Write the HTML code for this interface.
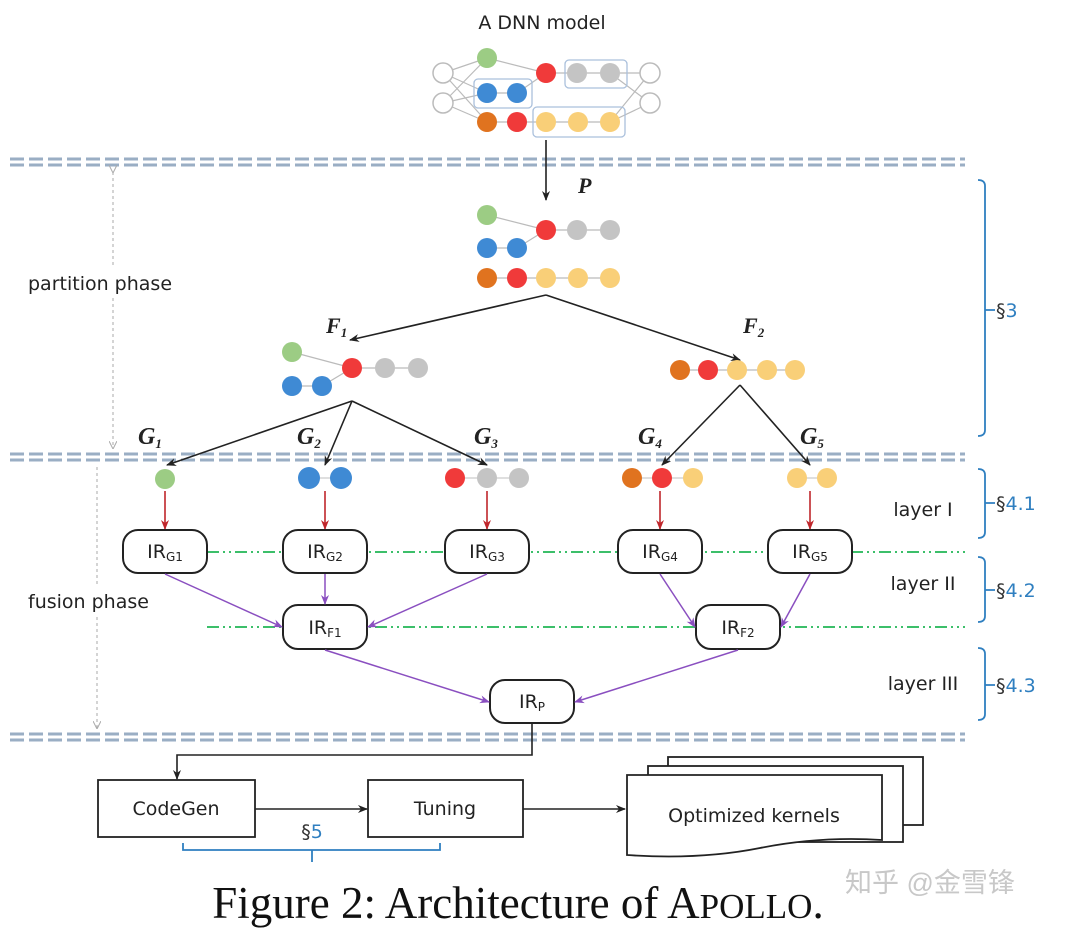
<!DOCTYPE html>
<html><head><meta charset="utf-8"><style>
html,body{margin:0;padding:0;background:#fff;}
svg{display:block;}
.s{font-family:"DejaVu Sans","Liberation Sans",sans-serif;}
.m{font-family:"Liberation Serif","DejaVu Serif",serif;font-style:italic;font-weight:bold;}
.cap{font-family:"Liberation Serif",serif;}
.wm{font-family:"Liberation Sans","Noto Sans CJK SC",sans-serif;}
</style></head><body>
<svg width="1080" height="943" viewBox="0 0 1080 943" xmlns="http://www.w3.org/2000/svg">
<defs>
<marker id="ak" markerWidth="10" markerHeight="10" refX="9" refY="5" orient="auto" markerUnits="userSpaceOnUse"><path d="M0,1 L10,5 L0,9 L3,5z" fill="#222"/></marker>
<marker id="ar" markerWidth="10" markerHeight="10" refX="9" refY="5" orient="auto" markerUnits="userSpaceOnUse"><path d="M0,1 L10,5 L0,9 L3,5z" fill="#c0262b"/></marker>
<marker id="ap" markerWidth="10" markerHeight="10" refX="9" refY="5" orient="auto" markerUnits="userSpaceOnUse"><path d="M0,1 L10,5 L0,9 L3,5z" fill="#8a4fc0"/></marker>
<marker id="ag" markerWidth="8" markerHeight="8" refX="7" refY="4" orient="auto" markerUnits="userSpaceOnUse"><path d="M0,0 L8,4 L0,8" fill="none" stroke="#aaa"/></marker>
</defs>

<text class="s" x="542" y="29" font-size="19" text-anchor="middle" fill="#222">A DNN model</text>
<g stroke="#bbb" stroke-width="1.2" fill="none">
<path d="M443,73 L487,58 M443,73 L487,93 M443,73 L487,122 M443,103 L487,58 M443,103 L487,93 M443,103 L487,122 M487,58 L546,73 M517,93 L546,73 M546,73 L610,73 M487,93 L517,93 M487,122 L610,122 M610,73 L650,73 M610,73 L650,103 M610,122 L650,73 M610,122 L650,103"/>
</g>
<g stroke="#aac0dc" stroke-width="1.3" fill="none">
<rect x="565" y="60" width="62" height="28" rx="4"/>
<rect x="474" y="79" width="58" height="29" rx="4"/>
<rect x="533" y="107" width="92" height="30" rx="4"/>
</g>
<g>
<circle cx="443" cy="73" r="10" fill="#fff" stroke="#bbb" stroke-width="1.5"/>
<circle cx="443" cy="103" r="10" fill="#fff" stroke="#bbb" stroke-width="1.5"/>
<circle cx="650" cy="73" r="10" fill="#fff" stroke="#bbb" stroke-width="1.5"/>
<circle cx="650" cy="103" r="10" fill="#fff" stroke="#bbb" stroke-width="1.5"/>
<circle cx="487" cy="58" r="10" fill="#9ccc84"/>
<circle cx="546" cy="73" r="10" fill="#f03a3a"/>
<circle cx="577" cy="73" r="10" fill="#c4c4c4"/>
<circle cx="610" cy="73" r="10" fill="#c4c4c4"/>
<circle cx="487" cy="93" r="10" fill="#3f8ad4"/>
<circle cx="517" cy="93" r="10" fill="#3f8ad4"/>
<circle cx="487" cy="122" r="10" fill="#e0731f"/>
<circle cx="517" cy="122" r="10" fill="#f03a3a"/>
<circle cx="546" cy="122" r="10" fill="#f9cf78"/>
<circle cx="578" cy="122" r="10" fill="#f9cf78"/>
<circle cx="610" cy="122" r="10" fill="#f9cf78"/>
</g>

<g stroke="#9aaec4" stroke-width="3" stroke-dasharray="14,5">
<line x1="10" y1="159" x2="965" y2="159"/><line x1="10" y1="165" x2="965" y2="165"/>
<line x1="10" y1="454" x2="965" y2="454"/><line x1="10" y1="460" x2="965" y2="460"/>
<line x1="10" y1="734" x2="965" y2="734"/><line x1="10" y1="740" x2="965" y2="740"/>
</g>

<line x1="546" y1="140" x2="546" y2="200" stroke="#222" stroke-width="1.6" marker-end="url(#ak)"/>
<text class="m" x="578" y="193" font-size="22" fill="#222">P</text>

<g stroke="#bbb" stroke-width="1.2"><path d="M487,215 L546,230 M517,248 L546,230 M546,230 L610,230 M487,248 L517,248 M487,278 L610,278"/></g>
<circle cx="487" cy="215" r="10" fill="#9ccc84"/>
<circle cx="546" cy="230" r="10" fill="#f03a3a"/>
<circle cx="577" cy="230" r="10" fill="#c4c4c4"/>
<circle cx="610" cy="230" r="10" fill="#c4c4c4"/>
<circle cx="487" cy="248" r="10" fill="#3f8ad4"/>
<circle cx="517" cy="248" r="10" fill="#3f8ad4"/>
<circle cx="487" cy="278" r="10" fill="#e0731f"/>
<circle cx="517" cy="278" r="10" fill="#f03a3a"/>
<circle cx="546" cy="278" r="10" fill="#f9cf78"/>
<circle cx="578" cy="278" r="10" fill="#f9cf78"/>
<circle cx="610" cy="278" r="10" fill="#f9cf78"/>

<line x1="546" y1="295" x2="350" y2="340" stroke="#222" stroke-width="1.6" marker-end="url(#ak)"/>
<line x1="546" y1="295" x2="740" y2="360" stroke="#222" stroke-width="1.6" marker-end="url(#ak)"/>
<text class="m" x="326" y="333" font-size="22" fill="#222">F<tspan font-size="13" dy="4">1</tspan></text>
<text class="m" x="743" y="333" font-size="22" fill="#222">F<tspan font-size="13" dy="4">2</tspan></text>

<g stroke="#bbb" stroke-width="1.2"><path d="M292,352 L352,368 M322,386 L352,368 M352,368 L418,368 M292,386 L322,386 M680,370 L795,370"/></g>
<circle cx="292" cy="352" r="10" fill="#9ccc84"/>
<circle cx="352" cy="368" r="10" fill="#f03a3a"/>
<circle cx="385" cy="368" r="10" fill="#c4c4c4"/>
<circle cx="418" cy="368" r="10" fill="#c4c4c4"/>
<circle cx="292" cy="386" r="10" fill="#3f8ad4"/>
<circle cx="322" cy="386" r="10" fill="#3f8ad4"/>
<circle cx="680" cy="370" r="10" fill="#e0731f"/>
<circle cx="708" cy="370" r="10" fill="#f03a3a"/>
<circle cx="737" cy="370" r="10" fill="#f9cf78"/>
<circle cx="767" cy="370" r="10" fill="#f9cf78"/>
<circle cx="795" cy="370" r="10" fill="#f9cf78"/>

<g stroke="#222" stroke-width="1.6">
<line x1="352" y1="401" x2="167" y2="465" marker-end="url(#ak)"/>
<line x1="352" y1="401" x2="325" y2="465" marker-end="url(#ak)"/>
<line x1="352" y1="401" x2="487" y2="465" marker-end="url(#ak)"/>
<line x1="740" y1="385" x2="662" y2="465" marker-end="url(#ak)"/>
<line x1="740" y1="385" x2="810" y2="465" marker-end="url(#ak)"/>
</g>
<g class="m" font-size="24" fill="#222">
<text x="138" y="444">G<tspan font-size="13" dy="4">1</tspan></text>
<text x="297" y="444">G<tspan font-size="13" dy="4">2</tspan></text>
<text x="474" y="444">G<tspan font-size="13" dy="4">3</tspan></text>
<text x="638" y="444">G<tspan font-size="13" dy="4">4</tspan></text>
<text x="800" y="444">G<tspan font-size="13" dy="4">5</tspan></text>
</g>

<g stroke="#ccc" stroke-width="1.2"><path d="M308,478 L340,478 M455,478 L519,478 M632,478 L693,478 M797,478 L827,478"/></g>
<circle cx="165" cy="479" r="10" fill="#9ccc84"/>
<circle cx="309" cy="478" r="11" fill="#3f8ad4"/>
<circle cx="341" cy="478" r="11" fill="#3f8ad4"/>
<circle cx="455" cy="478" r="10" fill="#f03a3a"/>
<circle cx="487" cy="478" r="10" fill="#c4c4c4"/>
<circle cx="519" cy="478" r="10" fill="#c4c4c4"/>
<circle cx="632" cy="478" r="10" fill="#e0731f"/>
<circle cx="662" cy="478" r="10" fill="#f03a3a"/>
<circle cx="693" cy="478" r="10" fill="#f9cf78"/>
<circle cx="797" cy="478" r="10" fill="#f9cf78"/>
<circle cx="827" cy="478" r="10" fill="#f9cf78"/>

<g stroke="#c0262b" stroke-width="1.6">
<line x1="165" y1="491" x2="165" y2="529" marker-end="url(#ar)"/>
<line x1="325" y1="491" x2="325" y2="529" marker-end="url(#ar)"/>
<line x1="487" y1="491" x2="487" y2="529" marker-end="url(#ar)"/>
<line x1="660" y1="491" x2="660" y2="529" marker-end="url(#ar)"/>
<line x1="810" y1="491" x2="810" y2="529" marker-end="url(#ar)"/>
</g>

<g stroke="#3cbf6a" stroke-width="2" stroke-dasharray="12,4,2,4,2,4">
<line x1="207" y1="552" x2="965" y2="552"/>
<line x1="207" y1="627" x2="965" y2="627"/>
</g>

<g stroke="#222" stroke-width="2" fill="#fff">
<rect x="123" y="530" width="84" height="43" rx="15"/>
<rect x="283" y="530" width="84" height="43" rx="15"/>
<rect x="445" y="530" width="84" height="43" rx="15"/>
<rect x="618" y="530" width="84" height="43" rx="15"/>
<rect x="768" y="530" width="84" height="43" rx="15"/>
<rect x="283" y="605" width="84" height="44" rx="15"/>
<rect x="696" y="605" width="84" height="44" rx="15"/>
<rect x="490" y="680" width="84" height="43" rx="15"/>
</g>
<g class="s" font-size="19" fill="#222" text-anchor="middle">
<text x="165" y="558">IR<tspan font-size="12" dy="3">G1</tspan></text>
<text x="325" y="558">IR<tspan font-size="12" dy="3">G2</tspan></text>
<text x="487" y="558">IR<tspan font-size="12" dy="3">G3</tspan></text>
<text x="660" y="558">IR<tspan font-size="12" dy="3">G4</tspan></text>
<text x="810" y="558">IR<tspan font-size="12" dy="3">G5</tspan></text>
<text x="325" y="634">IR<tspan font-size="12" dy="3">F1</tspan></text>
<text x="738" y="634">IR<tspan font-size="12" dy="3">F2</tspan></text>
<text x="532" y="708">IR<tspan font-size="12" dy="3">P</tspan></text>
</g>

<g stroke="#8a4fc0" stroke-width="1.5">
<line x1="165" y1="574" x2="282" y2="627" marker-end="url(#ap)"/>
<line x1="325" y1="574" x2="325" y2="604" marker-end="url(#ap)"/>
<line x1="487" y1="574" x2="368" y2="627" marker-end="url(#ap)"/>
<line x1="660" y1="574" x2="695" y2="627" marker-end="url(#ap)"/>
<line x1="810" y1="574" x2="781" y2="627" marker-end="url(#ap)"/>
<line x1="325" y1="650" x2="489" y2="702" marker-end="url(#ap)"/>
<line x1="738" y1="650" x2="575" y2="702" marker-end="url(#ap)"/>
</g>

<g stroke="#aaa" stroke-width="1" stroke-dasharray="3,3">
<line x1="113" y1="172" x2="113" y2="448" marker-end="url(#ag)" marker-start="url(#ag)"/>
<line x1="97" y1="467" x2="97" y2="728" marker-end="url(#ag)"/>
</g>
<rect x="25" y="268" width="170" height="28" fill="#fff"/>
<rect x="25" y="586" width="145" height="28" fill="#fff"/>
<text class="s" x="28" y="290" font-size="19" fill="#222">partition phase</text>
<text class="s" x="28" y="608" font-size="19" fill="#222">fusion phase</text>

<g stroke="#2f7fc0" stroke-width="1.8" fill="none">
<path d="M978,180 Q985,180 985,186 L985,430 Q985,436 978,436 M985,310 L995,310"/>
<path d="M978,469 Q985,469 985,475 L985,532 Q985,538 978,538 M985,503 L995,503"/>
<path d="M978,557 Q985,557 985,563 L985,616 Q985,622 978,622 M985,590 L995,590"/>
<path d="M978,648 Q985,648 985,654 L985,714 Q985,720 978,720 M985,685 L995,685"/>
</g>
<g class="s" font-size="19" fill="#2f7fc0">
<text x="996" y="317"><tspan fill="#333">§</tspan>3</text>
<text x="996" y="510"><tspan fill="#333">§</tspan>4.1</text>
<text x="996" y="597"><tspan fill="#333">§</tspan>4.2</text>
<text x="996" y="692"><tspan fill="#333">§</tspan>4.3</text>
</g>
<g class="s" font-size="19" fill="#222" text-anchor="middle">
<text x="923" y="516">layer I</text>
<text x="923" y="590">layer II</text>
<text x="923" y="690">layer III</text>
</g>

<path d="M532,723 L532,755 L177,755 L177,779" fill="none" stroke="#222" stroke-width="1.6" marker-end="url(#ak)"/>
<g stroke="#222" stroke-width="1.8" fill="#fff">
<rect x="98" y="780" width="157" height="57"/>
<rect x="368" y="780" width="155" height="57"/>
</g>
<line x1="255" y1="809" x2="367" y2="809" stroke="#222" stroke-width="1.6" marker-end="url(#ak)"/>
<line x1="523" y1="809" x2="625" y2="809" stroke="#222" stroke-width="1.6" marker-end="url(#ak)"/>
<g class="s" font-size="19" fill="#222" text-anchor="middle">
<text x="176" y="815">CodeGen</text>
<text x="445" y="815">Tuning</text>
</g>
<path d="M183,843 L183,850 L440,850 L440,843 M312,850 L312,862" fill="none" stroke="#2f7fc0" stroke-width="1.8"/>
<text class="s" x="312" y="838" font-size="19" fill="#2f7fc0" text-anchor="middle"><tspan fill="#333">§</tspan>5</text>

<g stroke="#222" stroke-width="1.8" fill="#fff">
<rect x="668" y="757" width="255" height="68"/>
<rect x="648" y="766" width="255" height="76"/>
<path d="M627,775 L882,775 L882,840 Q820,836 760,848 Q700,860 627,855 Z"/>
</g>
<text class="s" x="754" y="822" font-size="19" fill="#222" text-anchor="middle">Optimized kernels</text>

<text class="cap" x="518" y="918" font-size="45" fill="#111" text-anchor="middle">Figure 2: Architecture of A<tspan font-size="35">POLLO</tspan>.</text>
<text class="wm" x="845" y="892" font-size="27" fill="#c8c8c8">知乎 @金雪锋</text>
</svg>
</body></html>
